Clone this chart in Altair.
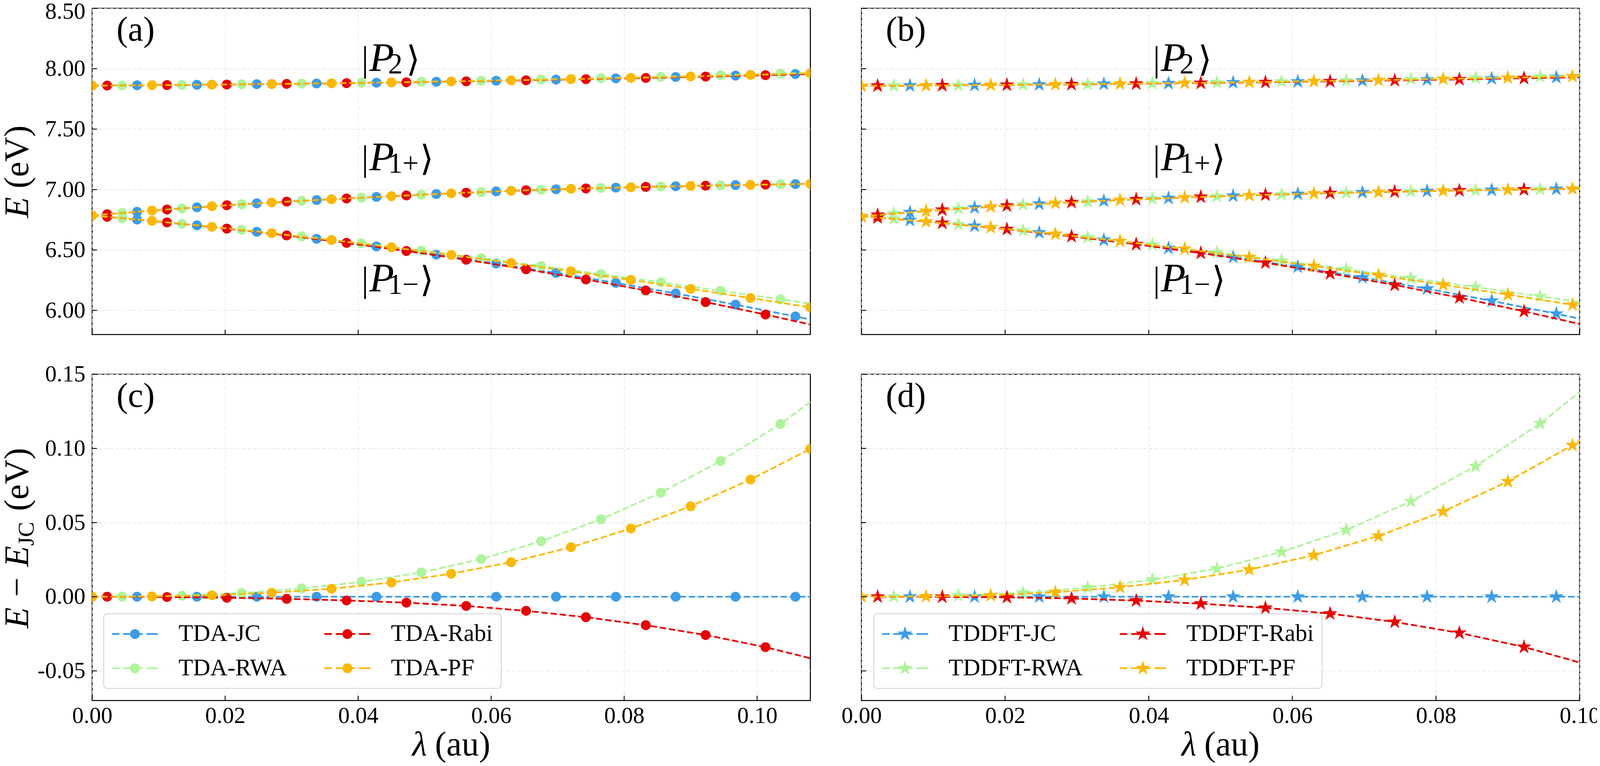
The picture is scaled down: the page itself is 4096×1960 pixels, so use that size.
import altair as alt
import pandas as pd

SERIF = "Liberation Serif"
W, H = 1839, 835          # plot area of every panel
TICK = 12.5               # inward tick length
STEP = 0.00225            # spacing of the computed lambda grid (au)

METHODS = ["JC", "RWA", "Rabi", "PF"]               # drawing order
OFFSET = {"JC": 3, "RWA": 2, "Rabi": 1, "PF": 0}    # first grid index carrying a marker
COLORS = {"JC": "#3c9ce6", "RWA": "#aef49a", "Rabi": "#e60000", "PF": "#fbb800"}
LEGEND_ORDER = ["JC", "RWA", "Rabi", "PF"]          # filled column by column

X_TICKS = [0.0, 0.02, 0.04, 0.06, 0.08, 0.10]
E_TICKS = [6.0, 6.5, 7.0, 7.5, 8.0, 8.5]
D_TICKS = [-0.05, 0.0, 0.05, 0.10, 0.15]

# ---------------- TDA (panels a and c) : values at lambda = (offset + 4k) * STEP
TDA_E0 = {"P2": 7.860, "P1+": 6.785, "P1-": 6.785}
TDA_P2 = {
    "JC":   [7.8626, 7.8669, 7.8720, 7.8779, 7.8845, 7.8921, 7.9007, 7.9100, 7.9201, 7.9311, 7.9429, 7.9557, 7.9693],
    "RWA":  [7.8617, 7.8657, 7.8709, 7.8769, 7.8839, 7.8918, 7.9007, 7.9106, 7.9215, 7.9332, 7.9460, 7.9597, 7.9744],
    "Rabi": [7.8608, 7.8646, 7.8691, 7.8745, 7.8806, 7.8877, 7.8955, 7.9041, 7.9135, 7.9238, 7.9348, 7.9466, 7.9591],
    "PF":   [7.8600, 7.8636, 7.8681, 7.8735, 7.8797, 7.8869, 7.8949, 7.9039, 7.9137, 7.9244, 7.9361, 7.9486, 7.9620],
}
TDA_P1P = {
    "JC":   [6.816, 6.853, 6.886, 6.913, 6.939, 6.963, 6.985, 7.002, 7.016, 7.027, 7.037, 7.045, 7.053],
    "RWA":  [6.806, 6.844, 6.878, 6.907, 6.933, 6.957, 6.979, 6.998, 7.013, 7.025, 7.035, 7.043, 7.051],
    "Rabi": [6.796, 6.835, 6.870, 6.900, 6.926, 6.951, 6.974, 6.994, 7.009, 7.022, 7.032, 7.041, 7.049],
    "PF":   [6.785, 6.826, 6.862, 6.893, 6.920, 6.945, 6.969, 6.990, 7.006, 7.019, 7.030, 7.039, 7.047],
}
TDA_P1M = {
    "JC":   [6.7519, 6.7036, 6.6503, 6.5921, 6.5290, 6.4610, 6.3881, 6.3103, 6.2276, 6.1400, 6.0475, 5.9501, 5.8478],
    "RWA":  [6.7634, 6.7168, 6.6666, 6.6127, 6.5552, 6.4949, 6.4322, 6.3676, 6.3010, 6.2326, 6.1626, 6.0914, 6.0198],
    "Rabi": [6.7743, 6.7282, 6.6768, 6.6204, 6.5587, 6.4916, 6.4190, 6.3404, 6.2558, 6.1652, 6.0686, 5.9654, 5.8556],
    "PF":   [6.7850, 6.7405, 6.6917, 6.6389, 6.5822, 6.5221, 6.4588, 6.3924, 6.3235, 6.2522, 6.1784, 6.1026, 6.0247],
}
TDA_DIFF = {
    "JC":   [0.0, 0.0, 0.0, 0.0, 0.0, 0.0, 0.0, 0.0, 0.0, 0.0, 0.0, 0.0, 0.0],
    "RWA":  [0.0001, 0.0007, 0.0025, 0.0056, 0.0100, 0.0164, 0.0254, 0.0374, 0.0522, 0.0702, 0.0915, 0.1165, 0.1460],
    "Rabi": [0.0000, -0.0002, -0.0007, -0.0014, -0.0025, -0.0040, -0.0062, -0.0095, -0.0138, -0.0192, -0.0258, -0.0340, -0.0440],
    "PF":   [0.0000, 0.0002, 0.0010, 0.0027, 0.0054, 0.0096, 0.0155, 0.0233, 0.0334, 0.0460, 0.0610, 0.0790, 0.0997],
}

# ---------------- TDDFT (panels b and d)
TDDFT_E0 = {"P2": 7.858, "P1+": 6.778, "P1-": 6.778}
TDDFT_P2 = {
    "JC":   [7.8603, 7.8639, 7.8682, 7.8732, 7.8791, 7.8856, 7.8929, 7.9009, 7.9095, 7.9189, 7.9291, 7.9400],
    "RWA":  [7.8595, 7.8631, 7.8675, 7.8728, 7.8791, 7.8861, 7.8941, 7.9028, 7.9125, 7.9231, 7.9346, 7.9469],
    "Rabi": [7.8587, 7.8619, 7.8658, 7.8704, 7.8756, 7.8815, 7.8882, 7.8955, 7.9034, 7.9121, 7.9214, 7.9314],
    "PF":   [7.8580, 7.8611, 7.8650, 7.8697, 7.8753, 7.8816, 7.8888, 7.8967, 7.9055, 7.9151, 7.9255, 7.9367, 7.9487],
}
TDDFT_P1P = {
    "JC":   [6.812, 6.850, 6.881, 6.907, 6.929, 6.948, 6.963, 6.976, 6.987, 6.996, 7.004, 7.012],
    "RWA":  [6.801, 6.841, 6.874, 6.901, 6.924, 6.943, 6.960, 6.973, 6.985, 6.994, 7.002, 7.010],
    "Rabi": [6.790, 6.832, 6.866, 6.895, 6.919, 6.939, 6.956, 6.970, 6.982, 6.992, 7.000, 7.008],
    "PF":   [6.778, 6.822, 6.858, 6.888, 6.913, 6.934, 6.952, 6.967, 6.979, 6.990, 6.998, 7.006, 7.014],
}
TDDFT_P1M = {
    "JC":   [6.7463, 6.6983, 6.6437, 6.5827, 6.5150, 6.4409, 6.3602, 6.2729, 6.1792, 6.0789, 5.9720, 5.8586],
    "RWA":  [6.7574, 6.7117, 6.6607, 6.6047, 6.5440, 6.4790, 6.4112, 6.3404, 6.2675, 6.1925, 6.1161, 6.0391],
    "Rabi": [6.7678, 6.7230, 6.6714, 6.6128, 6.5471, 6.4741, 6.3938, 6.3060, 6.2099, 6.1054, 5.9923, 5.8701],
    "PF":   [6.7780, 6.7351, 6.6862, 6.6321, 6.5728, 6.5084, 6.4396, 6.3670, 6.2911, 6.2122, 6.1305, 6.0465, 5.9602],
}
TDDFT_DIFF = {
    "JC":   [0.0, 0.0, 0.0, 0.0, 0.0, 0.0, 0.0, 0.0, 0.0, 0.0, 0.0, 0.0],
    "RWA":  [0.0001, 0.0008, 0.0027, 0.0062, 0.0114, 0.0190, 0.0302, 0.0450, 0.0643, 0.0880, 0.1168, 0.1515],
    "Rabi": [0.0000, -0.0001, -0.0004, -0.0012, -0.0026, -0.0047, -0.0075, -0.0114, -0.0170, -0.0244, -0.0339, -0.0460],
    "PF":   [0.0000, 0.0002, 0.0009, 0.0030, 0.0064, 0.0113, 0.0183, 0.0280, 0.0410, 0.0575, 0.0777, 0.1022, 0.1310],
}

# ket labels
KET_STATE = ["P2", "P1+", "P1-"]
KET_SUB = ["2", "1+", "1\u2212"]
KET_E = [7.980, 7.159, 6.155]
KET_LAM_TDA = 0.0405
KET_LAM_TDDFT = 0.0406

LABEL_EXPR = "(datum.value < 0 ? '-' : '') + format(abs(datum.value), '.2f')"

DASHES = ("M-2.95,-0.11L-1.975,-0.11L-1.975,0.11L-2.95,0.11Z"
          "M-1.5,-0.11L1,-0.11L1,0.11L-1.5,0.11Z"
          "M1.475,-0.11L2.95,-0.11L2.95,0.11L1.475,0.11Z")
CIRCLE_LEGEND = DASHES + "M0.6325,0A0.6325,0.6325,0,1,1,-0.6325,0A0.6325,0.6325,0,1,1,0.6325,0Z"
STAR = ("M0,-1L0.2245,-0.309L0.9511,-0.309L0.3633,0.118L0.5878,0.809L0,0.382"
        "L-0.5878,0.809L-0.3633,0.118L-0.9511,-0.309L-0.2245,-0.309Z")
STAR_LEGEND = DASHES + STAR


def build_df(series_by_state, e0, prefix):
    rows = []
    for m in METHODS:
        off = OFFSET[m]
        for state, series in series_by_state.items():
            if off > 0:
                rows.append({"method": m, "state": state, "lam": 0.0, "E": e0[state], "marker": False})
            for k, v in enumerate(series[m]):
                rows.append({"method": m, "state": state, "lam": round((off + 4 * k) * STEP, 5),
                             "E": v, "marker": True})
    df = pd.DataFrame(rows)
    df["label"] = prefix + "-" + df["method"]
    return df


def one_row():
    return pd.DataFrame({"k": [0]})


def text_layer(txt, x, y, size, italic=False, align="left", angle=0):
    kw = dict(text=txt, align=align, baseline="alphabetic", font=SERIF, fontSize=size, color="black")
    if italic:
        kw["fontStyle"] = "italic"
    if angle:
        kw["angle"] = angle
    return alt.Chart(one_row()).mark_text(**kw).encode(x=alt.value(x), y=alt.value(y))


def panel(df, prefix, xmax, ydom, yticks, xlabels, ylabels, shape, size,
          legend_x=None, legend_symbol=None, tag="", kets=None, texts=()):
    xs = alt.Scale(domain=[0, xmax], nice=False, zero=False)
    ys = alt.Scale(domain=ydom, nice=False, zero=False)
    common = dict(ticks=False, tickSize=0, domain=False, grid=True, title=None,
                  labelFlush=False, labelOverlap=False, labelExpr=LABEL_EXPR)
    xa = alt.Axis(values=X_TICKS, labels=xlabels, labelPadding=10, **common)
    ya = alt.Axis(values=yticks, labels=ylabels, labelPadding=17.7,
                  labelOffset={"condition": {"test": "datum.value >= 8.4", "value": 8}, "value": 0},
                  **common)
    X = alt.X("lam:Q", scale=xs, axis=xa)
    Y = alt.Y("E:Q", scale=ys, axis=ya)

    layers = []
    for m in METHODS:
        layers.append(
            alt.Chart().transform_filter(alt.datum.method == m)
            .mark_line(color=COLORS[m], strokeWidth=4.4, strokeDash=[16.4, 7.1], clip=True)
            .encode(x=X, y=Y, detail="state:N")
        )
        if legend_x is not None:
            col = alt.Color(
                "label:N",
                scale=alt.Scale(domain=[f"{prefix}-{k}" for k in LEGEND_ORDER],
                                range=[COLORS[k] for k in LEGEND_ORDER]),
                legend=alt.Legend(
                    title=None, orient="none", legendX=legend_x, legendY=613, columns=2,
                    symbolType=legend_symbol, symbolSize=1600, symbolStrokeWidth=0,
                    symbolOpacity=1, symbolOffset=28.5, labelOffset=81,
                    labelFont=SERIF, labelFontSize=61, labelColor="black", labelLimit=1000,
                    rowPadding=25.9, columnPadding=95, padding=21,
                    fillColor="rgba(255,255,255,0.8)", strokeColor="#d9d9d9", cornerRadius=9,
                ),
            )
        else:
            col = alt.value(COLORS[m])
        layers.append(
            alt.Chart().transform_filter((alt.datum.method == m) & (alt.datum.marker == True))
            .mark_point(shape=shape, size=size, filled=True, opacity=1, strokeWidth=0, clip=True)
            .encode(x=X, y=Y, color=col)
        )

    # inward ticks
    layers.append(alt.Chart(pd.DataFrame({"lam": X_TICKS})).mark_rule(color="black", strokeWidth=2.2)
                  .encode(x=X, y=alt.value(H), y2=alt.value(H - TICK)))
    layers.append(alt.Chart(pd.DataFrame({"E": yticks})).mark_rule(color="black", strokeWidth=2.2)
                  .encode(y=Y, x=alt.value(0), x2=alt.value(TICK)))

    # ket labels |P> at data positions
    if kets is not None:
        base = alt.Chart(kets)
        layers.append(base.mark_text(text="|", align="left", baseline="alphabetic", font=SERIF,
                                     fontSize=90, color="black").encode(x=X, y=Y))
        layers.append(base.mark_text(text="P", align="left", baseline="alphabetic", font=SERIF,
                                     fontSize=104, fontStyle="italic", dx=20, color="black").encode(x=X, y=Y))
        layers.append(base.mark_text(align="left", baseline="alphabetic", font=SERIF, fontSize=74,
                                     dx=68, dy=6, color="black").encode(x=X, y=Y, text="sub:N"))
        layers.append(base.transform_filter(alt.datum.state == "P2")
                      .mark_text(text="\u27e9", align="left", baseline="alphabetic", font="DejaVu Sans",
                                 fontSize=90, fontWeight=200, dx=115, color="black").encode(x=X, y=Y))
        layers.append(base.transform_filter(alt.datum.state != "P2")
                      .mark_text(text="\u27e9", align="left", baseline="alphabetic", font="DejaVu Sans",
                                 fontSize=90, fontWeight=200, dx=150, color="black").encode(x=X, y=Y))

    layers.append(text_layer(tag, 62.4, 82.9, 88))
    layers.extend(texts)
    return alt.layer(*layers, data=df).properties(width=W, height=H)


def kets_df(lam):
    return pd.DataFrame({"state": KET_STATE, "sub": KET_SUB, "E": KET_E, "lam": [lam] * 3})


YT = -164  # baseline position of rotated y titles
title_a = [
    text_layer("E", YT, 536.7, 88, italic=True, angle=270),
    text_layer("(eV)", YT, 461.0, 88, angle=270),
]
title_c = [
    text_layer("E", YT, 650.2, 88, italic=True, angle=270),
    text_layer("\u2212", YT, 569.4, 88, angle=270),
    text_layer("E", YT, 492.8, 88, italic=True, angle=270),
    text_layer("JC", YT + 14, 439.0, 58, angle=270),
    text_layer("(eV)", YT, 349.8, 88, angle=270),
]


def xtitle():
    return [
        text_layer("\u03bb", 819.5, H + 141, 88, italic=True),
        text_layer("(au)", 1019.5, H + 141, 88, align="right"),
    ]


df_a = build_df({"P2": TDA_P2, "P1+": TDA_P1P, "P1-": TDA_P1M}, TDA_E0, "TDA")
df_b = build_df({"P2": TDDFT_P2, "P1+": TDDFT_P1P, "P1-": TDDFT_P1M}, TDDFT_E0, "TDDFT")
df_c = build_df({"d": TDA_DIFF}, {"d": 0.0}, "TDA")
df_d = build_df({"d": TDDFT_DIFF}, {"d": 0.0}, "TDDFT")

pa = panel(df_a, "TDA", 0.108, [5.8, 8.5], E_TICKS, False, True, "circle", 640,
           tag="(a)", kets=kets_df(KET_LAM_TDA), texts=title_a)
pb = panel(df_b, "TDDFT", 0.10, [5.8, 8.5], E_TICKS, False, False, STAR, 1600,
           tag="(b)", kets=kets_df(KET_LAM_TDDFT))
pc = panel(df_c, "TDA", 0.108, [-0.07, 0.15], D_TICKS, True, True, "circle", 640,
           legend_x=29.5, legend_symbol=CIRCLE_LEGEND, tag="(c)", texts=title_c + xtitle())
pd_ = panel(df_d, "TDDFT", 0.10, [-0.07, 0.15], D_TICKS, True, False, STAR, 1600,
            legend_x=31.4, legend_symbol=STAR_LEGEND, tag="(d)", texts=xtitle())

chart = (
    alt.concat(pa, pb, pc, pd_, columns=2, spacing={"row": 101.7, "column": 130.9}, bounds="flush")
    .resolve_scale(x="independent", y="independent", color="independent")
    .properties(padding={"left": -8, "top": -10, "right": -9, "bottom": 0})
    .configure(font=SERIF, background="white")
    .configure_view(stroke="black", strokeWidth=2.66)
    .configure_axis(gridColor="#e3e3e3", gridDash=[9.8, 4.9], gridWidth=1.6,
                    labelFont=SERIF, labelFontSize=59, labelColor="black")
    .configure_legend(strokeWidth=2.6)
)

chart.save("out.html", embed_options={"renderer": "svg", "actions": False})
